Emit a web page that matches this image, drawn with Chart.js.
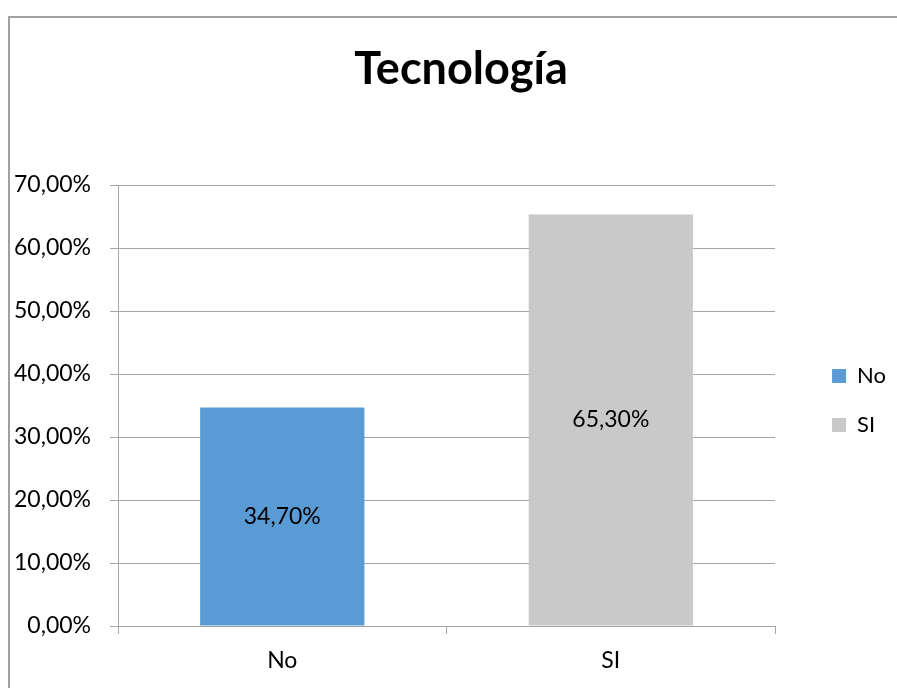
<!DOCTYPE html>
<html>
<head>
<meta charset="utf-8">
<title>Tecnología</title>
<style>
  html, body { margin: 0; padding: 0; background: #fff; overflow: hidden; }
  #chart { position: absolute; left: 0; top: 0; }
  /* the chart frame, only its left and top sides fall inside the window */
  #frame { position: absolute; left: 8px; top: 16px; width: 900px; height: 700px;
           border: 2px solid #a0a0a0; box-sizing: border-box; pointer-events: none; }
</style>
</head>
<body>
<canvas id="chart" width="897" height="688"></canvas>
<div id="frame"></div>
<script src="https://cdn.jsdelivr.net/npm/chart.js@4.4.0/dist/chart.umd.min.js"></script>
<script>
  const categories = ["No", "SI"];
  const seriesNo = [34.7, null];
  const seriesSi = [null, 65.3];
  const yTicks = [0, 10, 20, 30, 40, 50, 60, 70];

  const gridGrey = "#a6a6a6";
  const fmt = v => v.toFixed(2).replace(".", ",") + "%";

  Chart.defaults.font.family = "Lato, 'Open Sans', sans-serif";
  Chart.defaults.color = "#000";

  // value labels in the middle of each bar
  const barLabels = {
    id: "barLabels",
    afterDatasetsDraw(chart) {
      const ctx = chart.ctx;
      ctx.save();
      ctx.font = "23px Lato";
      ctx.fillStyle = "#000";
      ctx.textAlign = "center";
      ctx.textBaseline = "middle";
      chart.data.datasets.forEach((ds, i) => {
        chart.getDatasetMeta(i).data.forEach((bar, j) => {
          const v = ds.data[j];
          if (v == null) return;
          ctx.fillText(fmt(v), bar.x, (bar.y + bar.base) / 2);
        });
      });
      ctx.restore();
    }
  };

  // the frame is wider than the window, so the title is centred a bit right,
  // and the legend sits further from the plot than chart.js puts it
  const nudge = {
    id: "nudge",
    afterLayout(chart) {
      const t = chart.titleBlock;
      t.left += 28; t.right += 28;
      const lg = chart.legend;
      lg.left += 30; lg.right += 30;
      lg.top -= 5; lg.bottom -= 5;
    }
  };

  new Chart(document.getElementById("chart"), {
    type: "bar",
    data: {
      labels: categories,
      datasets: [
        { label: "No", data: seriesNo, backgroundColor: "#5b9bd5", borderWidth: 0 },
        { label: "SI", data: seriesSi, backgroundColor: "#c9c9c9", borderWidth: 0 }
      ]
    },
    options: {
      responsive: false,
      animation: false,
      events: [],
      layout: { padding: { top: 0, left: 0, right: 31, bottom: 0 } },
      datasets: { bar: { grouped: false, categoryPercentage: 0.5, barPercentage: 1 } },
      scales: {
        x: {
          grid: { drawOnChartArea: false, tickLength: 8, color: gridGrey, offset: true },
          border: { color: gridGrey },
          ticks: { font: { size: 23 }, padding: 13 },
          afterFit: s => { s.height = 62; }
        },
        y: {
          min: 0, max: 70,
          afterBuildTicks: s => { s.ticks = yTicks.map(v => ({ value: v })); },
          grid: { color: gridGrey, tickLength: 8 },
          border: { color: gridGrey },
          ticks: { font: { size: 23 }, padding: 19, callback: v => fmt(v) },
          afterFit: s => { s.width = 118; }
        }
      },
      plugins: {
        title: {
          display: true,
          text: "Tecnología",
          font: { size: 45, weight: "bold" },
          padding: { top: 42, bottom: 89 }
        },
        legend: {
          position: "right",
          fullSize: false,
          labels: { boxWidth: 14, boxHeight: 14, font: { size: 22 }, padding: 27 }
        },
        tooltip: { enabled: false }
      }
    },
    plugins: [barLabels, nudge]
  });
</script>
</body>
</html>
